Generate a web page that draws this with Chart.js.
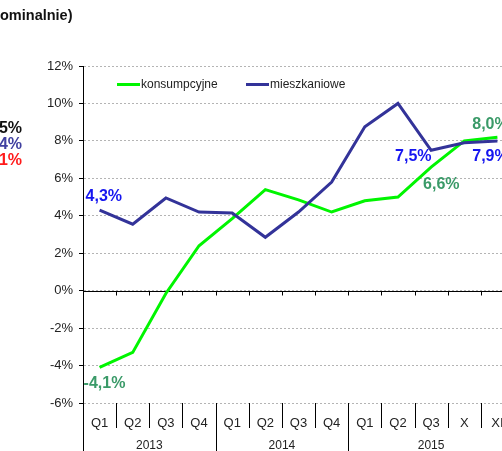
<!DOCTYPE html>
<html><head><meta charset="utf-8">
<script src="https://cdn.jsdelivr.net/npm/chart.js@4"></script>
<style>
html,body{margin:0;padding:0;overflow:hidden;background:#fff;width:502px;height:451px}
#wrap{position:absolute;left:0;top:0;width:520px;height:451px}
</style>
</head><body>
<div id="wrap"><canvas id="c" width="520" height="451"></canvas></div>
<script>
const categories = ['Q1','Q2','Q3','Q4','Q1','Q2','Q3','Q4','Q1','Q2','Q3','X','XI'];
const years = ['2013','2014','2015'];
const yearSpans = [4, 4, 5];
const seriesNames = ['konsumpcyjne', 'mieszkaniowe'];
const konsumpcyjne = [-4.1, -3.3, -0.15, 2.4, 3.85, 5.4, 4.85, 4.2, 4.8, 5.0, 6.6, 8.0, 8.2];
const mieszkaniowe = [4.3, 3.55, 4.95, 4.2, 4.15, 2.85, 4.2, 5.8, 8.75, 10.0, 7.5, 7.9, 8.0];
const yTicks = [-6, -4, -2, 0, 2, 4, 6, 8, 10, 12];
const sideTexts = ['ominalnie)', '5%', '4%', '1%'];

const GREEN = '#00f500', NAVY = '#333399', LBLUE = '#1515f0', LGREEN = '#3a9a68';
const fmt = v => v.toFixed(1).replace('.', ',') + '%';

const furniture = {
  id: 'furniture',
  beforeDatasetsDraw(chart) {
    const {ctx, chartArea, scales} = chart;
    const xs = scales.x, ys = scales.y;
    const n = categories.length;
    const w = (chartArea.right - chartArea.left) / n;
    const y0 = Math.round(ys.getPixelForValue(0)) + 0.5;
    ctx.save();
    ctx.strokeStyle = '#000'; ctx.lineWidth = 1;
    ctx.beginPath();
    ctx.moveTo(chartArea.left, y0); ctx.lineTo(chartArea.right, y0);
    for (let i = 1; i <= n; i++) {
      const bx = Math.round(xs.getPixelForValue(i) - w / 2) + 0.5;
      ctx.moveTo(bx, y0); ctx.lineTo(bx, y0 + 4);
    }
    ctx.stroke();
    const bounds = [0];
    let acc = 0; yearSpans.forEach(s => { acc += s; bounds.push(acc); });
    ctx.beginPath();
    for (let i = 0; i <= n; i++) {
      const bx = Math.round(xs.getPixelForValue(i) - w / 2) + 0.5;
      const long = bounds.includes(i);
      ctx.moveTo(bx, chartArea.bottom);
      ctx.lineTo(bx, long ? chart.height : chartArea.bottom + 25);
    }
    ctx.stroke();
    ctx.fillStyle = '#222';
    ctx.font = '12px Arial, "Liberation Sans"';
    ctx.textAlign = 'center'; ctx.textBaseline = 'alphabetic';
    for (let k = 0; k < years.length; k++) {
      const a = xs.getPixelForValue(bounds[k]) - w / 2;
      const b = xs.getPixelForValue(bounds[k + 1]) - w / 2;
      ctx.fillText(years[k], (a + b) / 2, 449);
    }
    ctx.restore();
  },
  afterDatasetsDraw(chart) {
    const {ctx} = chart;
    const m0 = chart.getDatasetMeta(0).data;
    const m1 = chart.getDatasetMeta(1).data;
    ctx.save();
    ctx.font = 'bold 16px Arial, "Liberation Sans"';
    ctx.textAlign = 'left'; ctx.textBaseline = 'alphabetic';
    const lab = (pt, v, color, dx, dy) => { ctx.fillStyle = color; ctx.fillText(fmt(v), pt.x + dx, pt.y + dy); };
    lab(m0[0], konsumpcyjne[0], LGREEN, -16, 21);
    lab(m1[0], mieszkaniowe[0], LBLUE, -14, -9);
    lab(m1[10], mieszkaniowe[10], LBLUE, -36, 11);
    lab(m0[10], konsumpcyjne[10], LGREEN, -8, 22);
    lab(m0[11], konsumpcyjne[11], LGREEN, 8, -12);
    lab(m1[11], mieszkaniowe[11], LBLUE, 8, 18);
    ctx.lineWidth = 3;
    ctx.strokeStyle = GREEN;
    ctx.beginPath(); ctx.moveTo(117, 84.5); ctx.lineTo(140, 84.5); ctx.stroke();
    ctx.strokeStyle = NAVY;
    ctx.beginPath(); ctx.moveTo(246, 84.5); ctx.lineTo(269, 84.5); ctx.stroke();
    ctx.fillStyle = '#222';
    ctx.font = '12px Arial, "Liberation Sans"';
    ctx.textBaseline = 'middle';
    ctx.fillText(seriesNames[0], 141, 85);
    ctx.fillText(seriesNames[1], 270, 85);
    ctx.textBaseline = 'alphabetic';
    ctx.font = 'bold 14.5px Arial, "Liberation Sans"';
    ctx.fillStyle = '#111';
    ctx.fillText(sideTexts[0], 0, 20);
    ctx.font = 'bold 16px Arial, "Liberation Sans"';
    ctx.textAlign = 'right';
    ctx.fillStyle = '#111'; ctx.fillText(sideTexts[1], 22, 133);
    ctx.fillStyle = '#4040a0'; ctx.fillText(sideTexts[2], 22, 149);
    ctx.fillStyle = '#ff1a1a'; ctx.fillText(sideTexts[3], 22, 165);
    ctx.restore();
  }
};

new Chart(document.getElementById('c'), {
  type: 'line',
  data: {
    labels: categories,
    datasets: [
      {label: seriesNames[0], data: konsumpcyjne, borderColor: GREEN, borderWidth: 3, pointRadius: 0, tension: 0, order: 2},
      {label: seriesNames[1], data: mieszkaniowe, borderColor: NAVY, borderWidth: 3, pointRadius: 0, tension: 0, order: 1}
    ]
  },
  options: {
    responsive: false,
    animation: false,
    devicePixelRatio: 1,
    layout: {padding: {left: 0, right: 6, top: 66, bottom: 0}},
    plugins: {legend: {display: false}, tooltip: {enabled: false}},
    scales: {
      x: {
        offset: true,
        afterFit: s => { s.height = 48; },
        grid: {display: false, drawTicks: false},
        border: {display: false},
        ticks: {font: {family: 'Arial', size: 13}, color: '#222', padding: 13, maxRotation: 0, autoSkip: false}
      },
      y: {
        min: -6, max: 12,
        afterBuildTicks: s => { s.ticks = yTicks.map(v => ({value: v})); },
        afterFit: s => { s.width = 83; },
        ticks: {callback: v => v + '%', font: {family: 'Arial', size: 13}, color: '#222', padding: 6},
        grid: {color: '#b4b4b4', lineWidth: 1, drawTicks: true, tickLength: 4, tickColor: '#000', tickBorderDash: [], tickWidth: 1},
        border: {display: true, color: '#000', width: 1, dash: [2, 2]}
      }
    }
  },
  plugins: [furniture]
});
</script>
</body></html>
